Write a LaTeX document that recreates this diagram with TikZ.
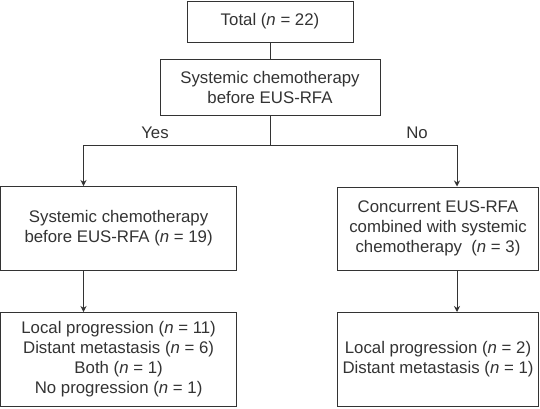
\documentclass[tikz,border=0pt]{standalone}
\usepackage{fontspec}
\setmainfont{Liberation Sans}
\usetikzlibrary{arrows.meta}
\definecolor{ink}{gray}{0.2}
\tikzset{
  box/.style={draw=ink, line width=1pt, align=center, inner sep=0pt, text=ink,
    font=\fontsize{16.8}{20}\selectfont},
  lbl/.style={text=ink, inner sep=0pt, font=\fontsize{16.8}{20}\selectfont},
  conn/.style={draw=ink, line width=1pt},
  arr/.style={conn, -{Stealth[length=6pt,width=6pt]}}
}
\begin{document}
\begin{tikzpicture}[x=1pt,y=-1pt]
\useasboundingbox (0,0) rectangle (540,408);
\node[box, minimum width=166pt, minimum height=41pt] (total) at (270,21.5) {Total (\textit{n} = 22)};
\node[box, minimum width=220pt, minimum height=56pt] (q) at (270,87) {Systemic chemotherapy\\before EUS-RFA};
\node[box, minimum width=236pt, minimum height=84pt] (l1) at (118.6,228.5) {Systemic chemotherapy\\before EUS-RFA (\textit{n} = 19)};
\node[box, minimum width=201pt, minimum height=83pt] (r1) at (438,228.5) {Concurrent EUS-RFA\\combined with systemic\\chemotherapy\ \ (\textit{n} = 3)};
\node[box, minimum width=236pt, minimum height=94pt] (l2) at (118.6,359.5) {Local progression (\textit{n} = 11)\\Distant metastasis (\textit{n} = 6)\\Both (\textit{n} = 1)\\No progression (\textit{n} = 1)};
\node[box, minimum width=201pt, minimum height=94pt] (r2) at (438,359.5) {Local progression (\textit{n} = 2)\\Distant metastasis (\textit{n} = 1)};
\node[lbl] (yes) at (155,133) {Yes};
\node[lbl] (no) at (417,133) {No};
\coordinate (bl) at (83.5,145);
\coordinate (br) at (457,145);
\draw[conn] (total.south) -- (q.north);
\draw[conn] (q.south) -- (q.south |- bl);
\draw[conn] (bl) -- (br);
\draw[arr] (bl) -- (l1.north -| bl);
\draw[arr] (br) -- (r1.north -| br);
\draw[arr] (l1.south -| bl) -- (l2.north -| bl);
\draw[arr] (r1.south -| br) -- (r2.north -| br);
\end{tikzpicture}
\end{document}
